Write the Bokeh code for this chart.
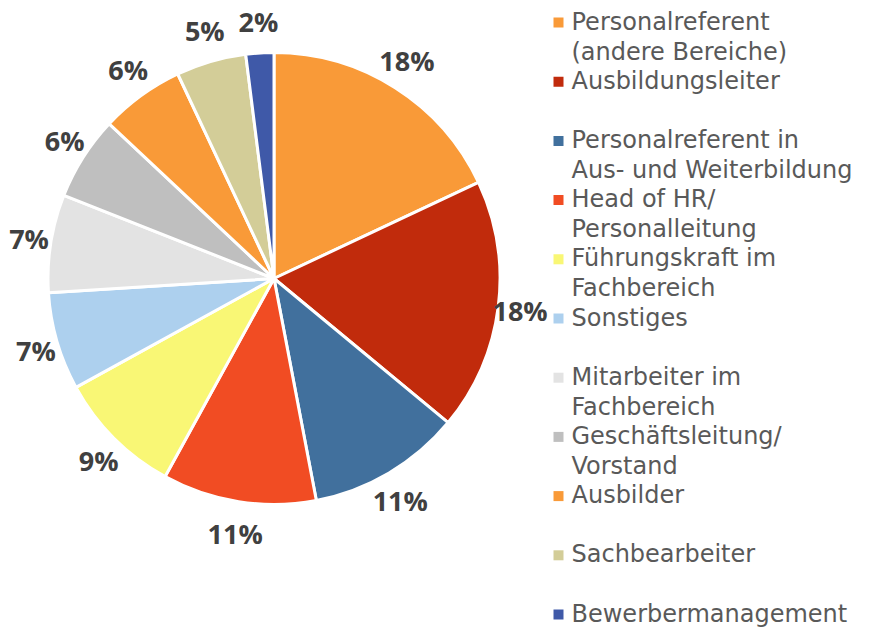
import numpy as np
from bokeh.plotting import figure
from bokeh.models import Range1d, ColumnDataSource
from bokeh.embed import file_html
from bokeh.resources import INLINE
from bokeh.core.properties import value

# ---- data ----
categories = [
    "Personalreferent\n(andere Bereiche)",
    "Ausbildungsleiter",
    "Personalreferent in\nAus- und Weiterbildung",
    "Head of HR/\nPersonalleitung",
    "Führungskraft im\nFachbereich",
    "Sonstiges",
    "Mitarbeiter im\nFachbereich",
    "Geschäftsleitung/\nVorstand",
    "Ausbilder",
    "Sachbearbeiter",
    "Bewerbermanagement",
]
shares = [18, 18, 11, 11, 9, 7, 7, 6, 6, 5, 2]
colors = ["#F99A38", "#C12B0C", "#41709D", "#F14C23", "#F9F775", "#ADD0EE",
          "#E3E3E3", "#BFBFBF", "#F99A38", "#D3CD98", "#3F59A8"]

# ---- layout (pixel-like data units) ----
W, H = 877, 627
cx, cy, R = 273.5, -278.0, 226.0

p = figure(width=W, height=H, output_backend="svg", toolbar_location=None,
           x_range=Range1d(0, W), y_range=Range1d(-H, 0),
           min_border=0, outline_line_color=None)
p.axis.visible = False
p.grid.visible = False
p.background_fill_color = "white"
p.border_fill_color = "white"

vals = np.array(shares, dtype=float)
frac = vals / vals.sum()
cum_end = np.cumsum(frac)
cum_start = cum_end - frac
start_angle = np.pi / 2 - cum_end * 2 * np.pi
end_angle = np.pi / 2 - cum_start * 2 * np.pi

src = ColumnDataSource(dict(start=start_angle, end=end_angle, color=colors))
p.wedge(x=cx, y=cy, radius=R, start_angle="start", end_angle="end",
        fill_color="color", line_color="white", line_width=3, source=src)

# data labels
mid = (cum_start + cum_end) / 2 * 2 * np.pi  # clockwise from top
rx, ry = R + 22, R + 32
lx = cx + rx * np.sin(mid)
ly = cy + ry * np.cos(mid)
p.text(x=lx, y=ly, text=[f"{v}%" for v in shares],
       text_align="center", text_baseline="middle",
       text_font=value("Open Sans"), text_font_style="bold",
       text_font_size="27px", text_color="#404040")

# legend
x0_marker, x0_text = 558, 571
y_first, entry_step, line_step = -21.0, -59.2, -30.0
mx, my, tx, ty, tt = [], [], [], [], []
for i, cat in enumerate(categories):
    yb = y_first + i * entry_step
    mx.append(x0_marker)
    my.append(yb - 1)
    for j, line in enumerate(cat.split("\n")):
        tx.append(x0_text)
        ty.append(yb + j * line_step)
        tt.append(line)
p.rect(x=mx, y=my, width=10, height=10, fill_color=colors, line_color=None)
p.text(x=tx, y=ty, text=tt, text_align="left", text_baseline="middle",
       text_font=value("DejaVu Sans"), text_font_size="24px",
       text_color="#595959")

open("out.html", "w").write(file_html(p, INLINE))
